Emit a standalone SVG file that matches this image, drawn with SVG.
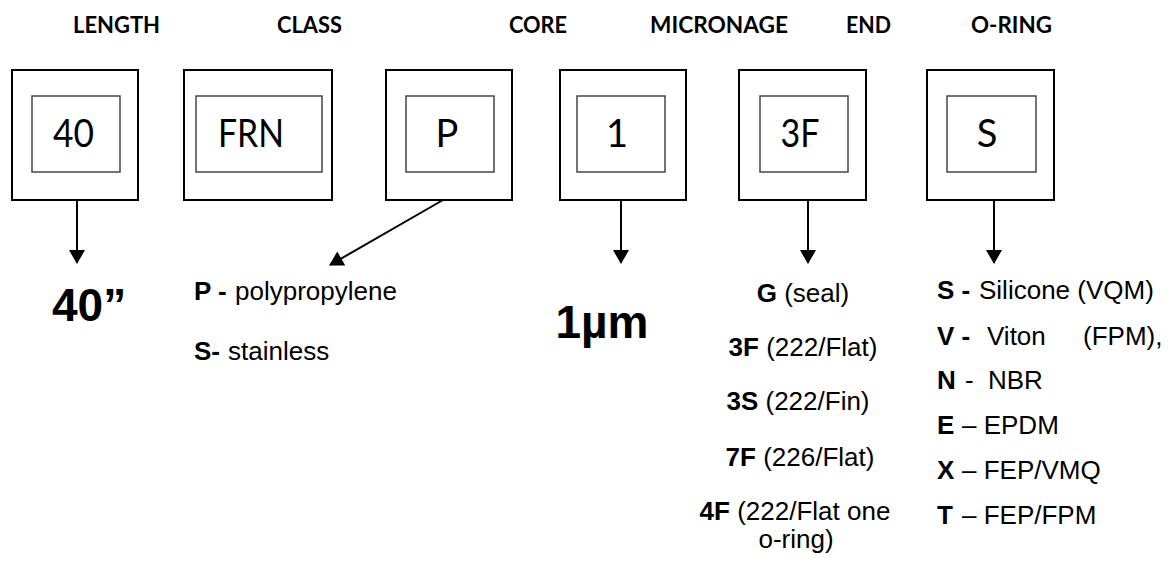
<svg xmlns="http://www.w3.org/2000/svg" width="1174" height="565" viewBox="0 0 1174 565">
<style>
.outer{fill:#fff;stroke:#000;stroke-width:2}
.inner{fill:none;stroke:#3a3a3a;stroke-width:1.4}
.hdr{font-family:Lato,"Open Sans",sans-serif;font-weight:bold;font-size:23px;fill:#000}
.code{font-family:Lato,"Open Sans",sans-serif;font-size:38px;fill:#000;text-anchor:middle}
.txt{font-family:"Liberation Sans",Arial,sans-serif;font-size:26px;fill:#000;white-space:pre}
.big{font-family:"Liberation Sans",Arial,sans-serif;font-size:46px;font-weight:bold;fill:#000}
.b{font-weight:bold}
.conn line{stroke:#000;stroke-width:2}
</style>
<defs>
<marker id="ah" markerUnits="userSpaceOnUse" markerWidth="16" markerHeight="16" viewBox="0 0 14 16" refX="13" refY="8" orient="auto">
<path d="M0,0 L14,8 L0,16 z" fill="#000"/>
</marker>
</defs>
<g id="headers">
<text class="hdr" x="73" y="33" textLength="87" lengthAdjust="spacingAndGlyphs">LENGTH</text>
<text class="hdr" x="277" y="33" textLength="65" lengthAdjust="spacingAndGlyphs">CLASS</text>
<text class="hdr" x="509" y="33" textLength="58" lengthAdjust="spacingAndGlyphs">CORE</text>
<text class="hdr" x="650" y="33" textLength="138" lengthAdjust="spacingAndGlyphs">MICRONAGE</text>
<text class="hdr" x="846" y="33" textLength="45" lengthAdjust="spacingAndGlyphs">END</text>
<text class="hdr" x="971" y="33" textLength="81" lengthAdjust="spacingAndGlyphs">O-RING</text>
</g>
<g id="node-length">
<rect class="outer" x="12" y="70" width="126" height="130"/>
<rect class="inner" x="32" y="96" width="88" height="76"/>
<text class="code" x="73.5" y="147" textLength="41" lengthAdjust="spacingAndGlyphs">40</text>
</g>
<g id="node-class">
<rect class="outer" x="184" y="70" width="148" height="130"/>
<rect class="inner" x="196" y="96" width="126" height="76"/>
<text class="code" x="251" y="147" textLength="66" lengthAdjust="spacingAndGlyphs">FRN</text>
</g>
<g id="node-core">
<rect class="outer" x="386" y="70" width="126" height="130"/>
<rect class="inner" x="406" y="96" width="88" height="76"/>
<text class="code" x="447" y="147">P</text>
</g>
<g id="node-micronage">
<rect class="outer" x="560" y="70" width="126" height="130"/>
<rect class="inner" x="577" y="96" width="88" height="76"/>
<text class="code" x="617" y="147">1</text>
</g>
<g id="node-end">
<rect class="outer" x="739" y="70" width="127" height="130"/>
<rect class="inner" x="760" y="96" width="88" height="76"/>
<text class="code" x="800" y="147" textLength="39" lengthAdjust="spacingAndGlyphs">3F</text>
</g>
<g id="node-oring">
<rect class="outer" x="927" y="70" width="127" height="130"/>
<rect class="inner" x="947" y="96" width="89" height="76"/>
<text class="code" x="987" y="147">S</text>
</g>
<g id="connectors" class="conn">
<line x1="77" y1="200" x2="77" y2="263" marker-end="url(#ah)"/>
<line x1="443" y1="200" x2="330" y2="265" marker-end="url(#ah)"/>
<line x1="621" y1="200" x2="621" y2="263" marker-end="url(#ah)"/>
<line x1="808" y1="200" x2="808" y2="263" marker-end="url(#ah)"/>
<line x1="994" y1="200" x2="994" y2="263" marker-end="url(#ah)"/>
</g>
<g id="desc-length">
<text class="big" x="52" y="321">40”</text>
</g>
<g id="desc-core">
<text class="txt" x="194" y="300"><tspan class="b">P -</tspan><tspan x="235">polypropylene</tspan></text>
<text class="txt" x="194" y="360"><tspan class="b">S-</tspan><tspan x="228">stainless</tspan></text>
</g>
<g id="desc-micronage">
<text class="big" x="602" y="338" text-anchor="middle">1µm</text>
</g>
<g id="desc-end">
<text class="txt" x="803" y="302" text-anchor="middle"><tspan class="b">G</tspan> (seal)</text>
<text class="txt" x="803" y="356" text-anchor="middle"><tspan class="b">3F</tspan> (222/Flat)</text>
<text class="txt" x="798" y="410" text-anchor="middle"><tspan class="b">3S</tspan> (222/Fin)</text>
<text class="txt" x="800" y="466" text-anchor="middle"><tspan class="b">7F</tspan> (226/Flat)</text>
<text class="txt" x="795" y="520" text-anchor="middle"><tspan class="b">4F</tspan> (222/Flat one</text>
<text class="txt" x="796" y="548" text-anchor="middle">o-ring)</text>
</g>
<g id="desc-oring">
<text class="txt" x="937" y="299"><tspan class="b">S -</tspan><tspan x="979">Silicone (VQM)</tspan></text>
<text class="txt" x="937" y="345"><tspan class="b">V -</tspan><tspan x="987">Viton</tspan><tspan x="1083">(FPM),</tspan></text>
<text class="txt" x="937" y="389"><tspan class="b">N</tspan><tspan x="965">-</tspan><tspan x="988">NBR</tspan></text>
<text class="txt" x="937" y="434"><tspan class="b">E</tspan><tspan x="962">– EPDM</tspan></text>
<text class="txt" x="937" y="479"><tspan class="b">X</tspan><tspan x="962">– FEP/VMQ</tspan></text>
<text class="txt" x="937" y="524"><tspan class="b">T</tspan><tspan x="962">– FEP/FPM</tspan></text>
</g>
</svg>
